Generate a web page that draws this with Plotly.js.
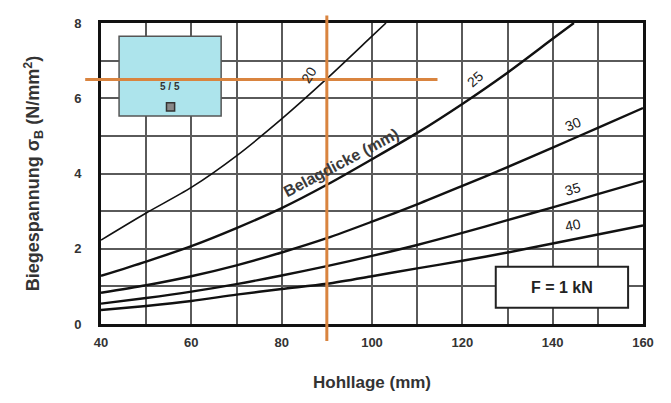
<!DOCTYPE html>
<html>
<head>
<meta charset="utf-8">
<script src="https://cdn.plot.ly/plotly-3.0.1.min.js"></script>
<style>html,body{margin:0;padding:0;background:#fff;}#chart{width:671px;height:403px;}</style>
</head>
<body>
<div id="chart"></div>
<script>
// Hohllage (mm)
const hohllage = [40, 50, 60, 70, 80, 90, 100, 110, 120, 130, 140, 150, 160];
// Biegespannung per Belagdicke
const d20 = [2.23, 2.95, 3.63, 4.47, 5.45, 6.52, 7.65];
const d20x = [40, 50, 60, 70, 80, 90, 100];
const d20end = [103.1, 8.0];
const d25 = [1.28, 1.66, 2.07, 2.55, 3.08, 3.70, 4.38, 5.08, 5.85, 6.68, 7.58];
const d25end = [144.7, 8.0];
const d30 = [0.83, 1.03, 1.27, 1.56, 1.90, 2.28, 2.72, 3.18, 3.67, 4.17, 4.69, 5.21, 5.74];
const d35 = [0.54, 0.69, 0.86, 1.06, 1.29, 1.54, 1.81, 2.10, 2.42, 2.76, 3.10, 3.45, 3.80];
const d40 = [0.37, 0.48, 0.61, 0.78, 0.93, 1.07, 1.27, 1.48, 1.68, 1.90, 2.14, 2.38, 2.62];
const curveLabels = ['20', '25', '30', '35', '40'];
const labelX = [86.0, 122.8, 144.5, 144.5, 144.5];
const labelY = [6.62, 6.52, 5.32, 3.58, 2.62];
const labelAngle = [-58, -42, -24, -16, -12];
const xTicks = [40, 60, 80, 100, 120, 140, 160];
const yTicks = [0, 2, 4, 6, 8];
const xRange = [40, 160];
const yRange = [0, 8];
// reading example
const crossX = 90, crossY = 6.5;
const hLineX = [36.5, 114.5];
const vLineY = [-0.45, 8.2];

const px = v => (v - xRange[0]) / (xRange[1] - xRange[0]);
const py = v => (v - yRange[0]) / (yRange[1] - yRange[0]);

const line = (x, y, w) => ({x, y, mode: 'lines', type: 'scatter', line: {color: '#111', width: w, shape: 'spline', smoothing: 0.8}, hoverinfo: 'skip', showlegend: false});

const traces = [
  line(d20x.concat([d20end[0]]), d20.concat([d20end[1]]), 1.6),
  line(hohllage.slice(0, d25.length).concat([d25end[0]]), d25.concat([d25end[1]]), 2.4),
  line(hohllage, d30, 2.4),
  line(hohllage, d35, 2.4),
  line(hohllage, d40, 2.4)
];

const FONT = 'Liberation Sans, Arial, sans-serif';
const annotations = curveLabels.map((t, i) => ({
  x: labelX[i], y: labelY[i], xref: 'x', yref: 'y', text: t, showarrow: false,
  textangle: labelAngle[i], font: {family: FONT, size: 14, color: '#222'}
}));
annotations.push({x: 93.2, y: 4.3, xref: 'x', yref: 'y', text: '<b>Belagdicke (mm)</b>', showarrow: false, textangle: -28,
  font: {family: FONT, size: 16, color: '#3a3a3a'}});
annotations.push({x: 142, y: 0.98, xref: 'x', yref: 'y', text: '<b>F = 1 kN</b>', showarrow: false,
  font: {family: FONT, size: 16, color: '#222'}});
annotations.push({x: 55.3, y: 6.3, xref: 'x', yref: 'y', text: '<b>5 / 5</b>', showarrow: false,
  font: {family: FONT, size: 10, color: '#333'}});

const shapes = [
  {type: 'rect', xref: 'x', yref: 'y', x0: 44, x1: 66.6, y0: 5.53, y1: 7.65, fillcolor: '#ade4ec', line: {color: '#555', width: 1.5}, layer: 'above'},
  {type: 'rect', xref: 'x', yref: 'y', x0: 54.5, x1: 56.3, y0: 5.66, y1: 5.88, fillcolor: '#888', line: {color: '#333', width: 1.5}, layer: 'above'},
  {type: 'rect', xref: 'x', yref: 'y', x0: 127.4, x1: 156.7, y0: 0.43, y1: 1.52, fillcolor: '#fff', line: {color: '#222', width: 2}, layer: 'above'},
  {type: 'line', xref: 'paper', yref: 'paper', x0: px(hLineX[0]), x1: px(hLineX[1]), y0: py(crossY), y1: py(crossY), line: {color: '#d9843f', width: 3}, layer: 'above'},
  {type: 'line', xref: 'paper', yref: 'paper', x0: px(crossX), x1: px(crossX), y0: py(vLineY[0]), y1: py(vLineY[1]), line: {color: '#d9843f', width: 3}, layer: 'above'}
];

const layout = {
  width: 671, height: 403,
  margin: {l: 101, r: 28, t: 23, b: 79},
  paper_bgcolor: '#fff', plot_bgcolor: '#fff',
  showlegend: false,
  xaxis: {
    range: xRange, tickvals: xTicks, ticks: '', ticklabelstandoff: 4,
    showgrid: true, gridcolor: '#5a5a5a', gridwidth: 2,
    minor: {dtick: 10, showgrid: true, gridcolor: '#5a5a5a', gridwidth: 2},
    showline: true, linecolor: '#111', linewidth: 3, mirror: true,
    zeroline: false,
    tickfont: {family: FONT, size: 13, color: '#333', weight: 'bold'},
    title: {text: '<b>Hohllage (mm)</b>', font: {family: FONT, size: 17, color: '#333'}, standoff: 28}
  },
  yaxis: {
    range: yRange, tickvals: yTicks, ticks: '', ticklabelstandoff: 14,
    showgrid: true, gridcolor: '#5a5a5a', gridwidth: 2,
    minor: {dtick: 1, showgrid: true, gridcolor: '#5a5a5a', gridwidth: 2},
    showline: true, linecolor: '#111', linewidth: 3, mirror: true,
    zeroline: false,
    tickfont: {family: FONT, size: 13, color: '#333', weight: 'bold'},
    title: {text: '<b>Biegespannung σ<sub>B</sub> (N/mm<sup>2</sup>)</b>', font: {family: FONT, size: 18, color: '#333'}, standoff: 30}
  },
  shapes, annotations
};

Plotly.newPlot('chart', traces, layout, {staticPlot: true, displayModeBar: false});
</script>
</body>
</html>
